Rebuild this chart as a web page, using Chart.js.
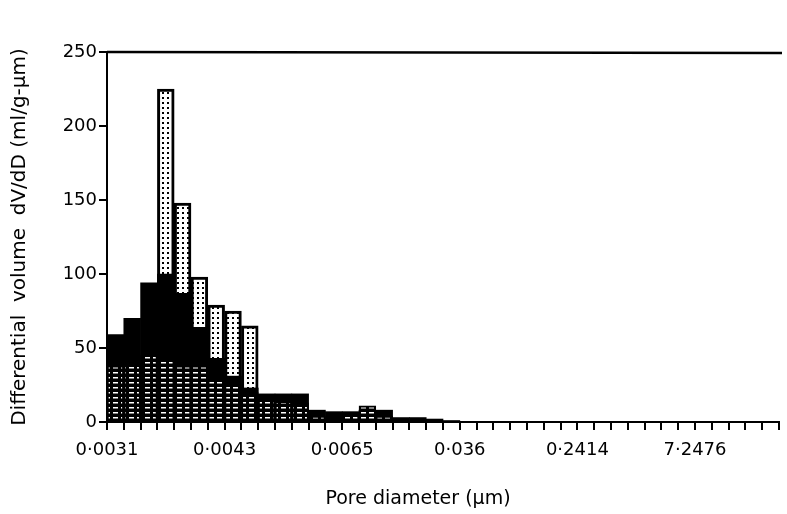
<!DOCTYPE html>
<html>
<head>
<meta charset="utf-8">
<script src="https://cdn.jsdelivr.net/npm/chart.js@4/dist/chart.umd.min.js"></script>
<style>
  html, body { margin: 0; padding: 0; background: #fff; }
  #wrap { width: 787px; height: 514px; }
</style>
</head>
<body>
<div id="wrap"><canvas id="poreChart" width="787" height="514"></canvas></div>
<script>
// 40 pore-size bins, tick label every 7th bin boundary
const binCount = 40;
const tickLabels = ["0·0031", "0·0043", "0·0065", "0·036", "0·2414", "7·2476"];
const tickEvery = 7;

// dV/dD per bin (ml/g-µm), three overlapping samples
const dottedValues = [
    null, null, null, 225, 148, 98, 79, 75, 65, null,
    null, null, null, null, null, null, null, null, null, null,
    null, null, null, null, null, null, null, null, null, null,
    null, null, null, null, null, null, null, null, null, null,
];
const blackValues = [
    59, 70, 94, 100, 87, 64, 43, 31, 23, 19,
    19, 19, 8, 7, 7, 8, 8, 3, 3, 2,
    1, null, null, null, null, null, null, null, null, null,
    null, null, null, null, null, null, null, null, null, null,
];
const stripedValues = [
    38, 40, 45, 43, 38, 38, 30, 26, 20, 15,
    14, 13, 4, 3, 6, 11, 4, null, null, null,
    null, null, null, null, null, null, null, null, null, null,
    null, null, null, null, null, null, null, null, null, null,
];

const binLabels = Array.from({ length: binCount }, (_, i) => String(i));

// fill patterns like the printed figure
function makePattern(w, h, draw) {
    const c = document.createElement("canvas");
    c.width = w;
    c.height = h;
    draw(c.getContext("2d"));
    return c.getContext("2d").createPattern(c, "repeat");
}
const dots = makePattern(5, 5, (g) => {
    g.fillStyle = "#fff";
    g.fillRect(0, 0, 5, 5);
    g.fillStyle = "#000";
    g.fillRect(2, 2, 2, 2);
});
const stripes = makePattern(8, 5, (g) => {
    g.fillStyle = "#000";
    g.fillRect(0, 0, 8, 5);
    g.fillStyle = "#fff";
    g.fillRect(1, 2, 5, 1.5);
});

const FONT = "'DejaVu Sans', sans-serif";

// top frame line + x title
const extras = {
    id: "extras",
    afterDraw(chart) {
        const { ctx, chartArea } = chart;
        ctx.save();
        ctx.strokeStyle = "#000";
        ctx.lineWidth = 2.5;
        ctx.beginPath();
        ctx.moveTo(chartArea.left, chartArea.top);
        ctx.lineTo(chartArea.right + 3, chartArea.top + 1);
        ctx.stroke();
        ctx.fillStyle = "#000";
        ctx.font = "19px " + FONT;
        ctx.textAlign = "center";
        ctx.textBaseline = "middle";
        ctx.fillText("Pore diameter (µm)", 418, 499);
        ctx.restore();
    },
};

new Chart(document.getElementById("poreChart"), {
    type: "bar",
    data: {
        labels: binLabels,
        datasets: [
            {
                data: dottedValues,
                order: 3,
                backgroundColor: dots,
                borderColor: "#000",
                borderWidth: 3,
            },
            {
                data: blackValues,
                order: 2,
                backgroundColor: "#000",
                borderWidth: 0,
            },
            {
                data: stripedValues,
                order: 1,
                backgroundColor: stripes,
                borderColor: "#000",
                borderWidth: 2,
            },
        ],
    },
    options: {
        responsive: false,
        animation: false,
        devicePixelRatio: 1,
        layout: { padding: { top: 52, right: 8, left: 0, bottom: 0 } },
        datasets: {
            bar: {
                grouped: false,
                categoryPercentage: 1,
                barPercentage: 1,
            },
        },
        plugins: {
            legend: { display: false },
            tooltip: { enabled: false },
        },
        scales: {
            x: {
                afterFit: (s) => { s.height = 92; },
                border: { display: true, color: "#000", width: 2 },
                grid: {
                    offset: true,
                    drawOnChartArea: false,
                    drawTicks: true,
                    tickLength: 8,
                    color: "#000",
                    lineWidth: 2,
                },
                ticks: {
                    autoSkip: false,
                    maxRotation: 0,
                    color: "#000",
                    padding: 10,
                    labelOffset: -8.4,
                    font: { family: FONT, size: 18 },
                    callback: (v, i) => (i % tickEvery === 0 ? tickLabels[i / tickEvery] || "" : ""),
                },
            },
            y: {
                min: 0,
                max: 250,
                afterFit: (s) => { s.width = 107; },
                border: { display: true, color: "#000", width: 2 },
                grid: {
                    drawOnChartArea: false,
                    drawTicks: true,
                    tickLength: 8,
                    color: "#000",
                    lineWidth: 2,
                },
                ticks: {
                    stepSize: 50,
                    color: "#000",
                    padding: 2,
                    font: { family: FONT, size: 18 },
                },
                title: {
                    display: true,
                    text: "Differential  volume  dV/dD (ml/g-µm)",
                    color: "#000",
                    padding: { top: 8, bottom: 0 },
                    font: { family: FONT, size: 20 },
                },
            },
        },
    },
    plugins: [extras],
});
</script>
</body>
</html>
